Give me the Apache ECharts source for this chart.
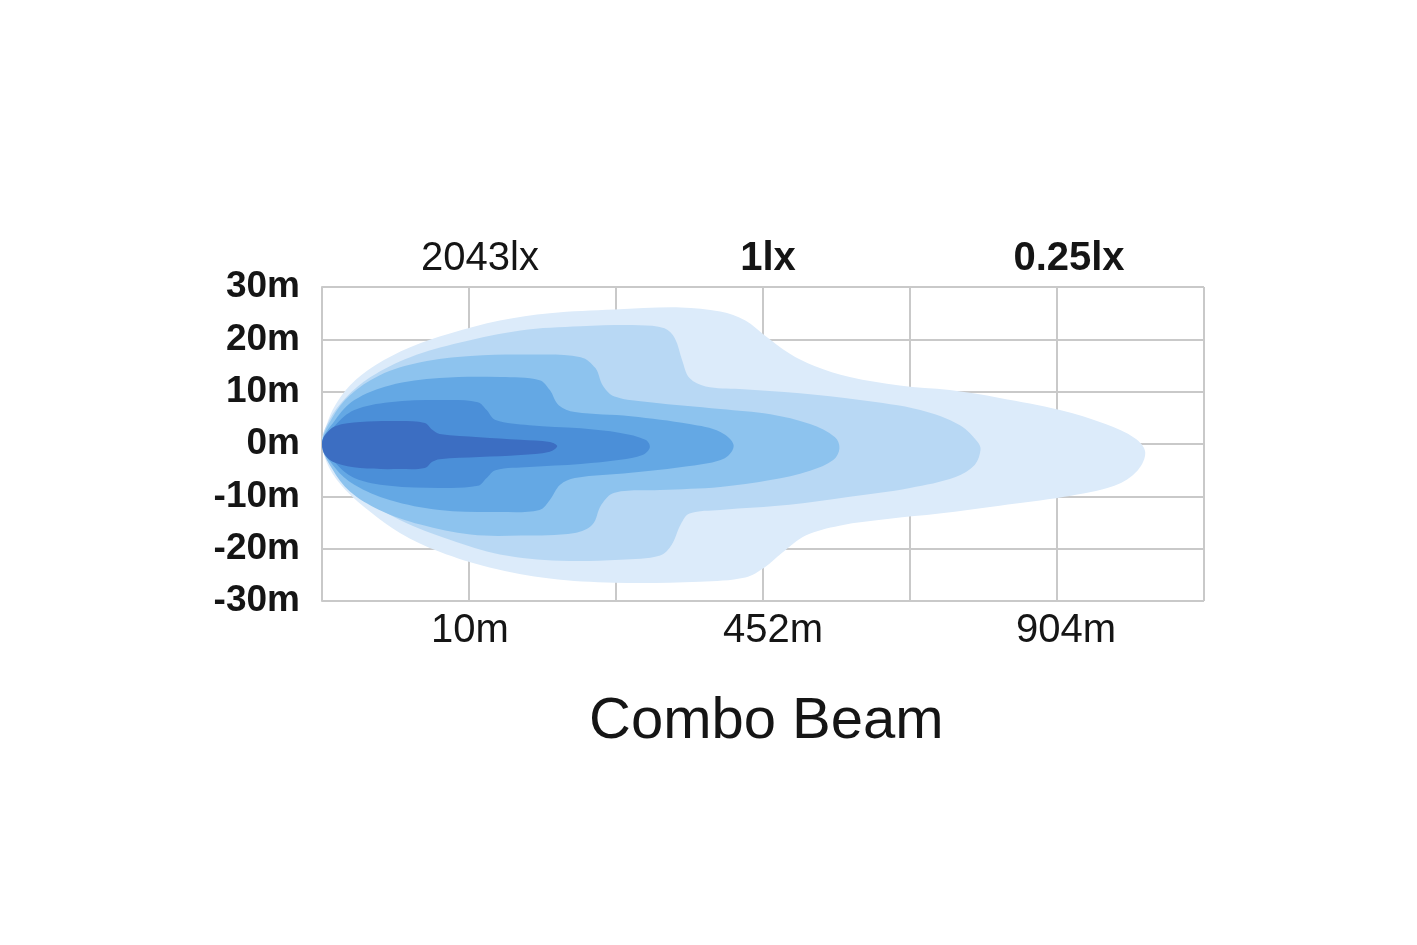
<!DOCTYPE html>
<html>
<head>
<meta charset="utf-8">
<style>
html,body{margin:0;padding:0;background:#fff;}
#chart{width:1417px;height:945px;}
</style>
<script src="https://cdn.jsdelivr.net/npm/echarts@6/dist/echarts.min.js"></script>
</head>
<body>
<div id="chart"></div>
<script>
// ---- data (x in grid-column units 0..6, y in metres) ----
var titleText = 'Combo Beam';
var yTicks = [-30, -20, -10, 0, 10, 20, 30];
var bottomLabels = ['', '10m', '', '452m', '', '904m', ''];
var topLabels = ['', '2043lx', '', '1lx', '', '0.25lx', ''];

// iso-lux contours, outermost (dimmest) to innermost (brightest)
var contour1 = [[0,0],[0.03,3.6],[0.09,7.4],[0.19,11.2],[0.36,15.0],[0.60,18.5],[0.87,21.1],[1.21,23.6],[1.55,25.0],[1.99,25.7],[2.44,26.1],[2.71,25.3],[2.88,23.6],[3.01,20.8],[3.18,17.3],[3.35,14.9],[3.59,12.8],[3.93,11.2],[4.27,10.3],[4.61,8.8],[5.02,6.5],[5.33,3.8],[5.53,1.1],[5.60,-1.5],
  [5.55,-5.0],[5.39,-8.0],[5.05,-10.1],[4.61,-11.8],[4.20,-13.3],[3.86,-14.3],[3.52,-15.6],[3.29,-17.5],[3.13,-20.8],[3.01,-23.6],[2.88,-25.5],[2.57,-26.3],[1.99,-26.5],[1.55,-25.7],[1.14,-23.6],[0.80,-20.6],[0.53,-17.0],[0.33,-13.0],[0.16,-8.8],[0.05,-4.6]];
var contour2 = [[0,0],[0.05,4.6],[0.16,8.8],[0.33,12.8],[0.60,16.6],[0.94,19.4],[1.35,21.7],[1.76,22.5],[2.16,22.7],[2.33,22.1],[2.40,20.2],[2.45,16.0],[2.50,12.6],[2.61,11.0],[2.84,10.5],[3.25,9.7],[3.66,8.4],[4.07,6.5],[4.34,3.6],[4.46,0.4],[4.48,-1.1],
  [4.44,-4.0],[4.31,-6.3],[4.00,-8.4],[3.59,-10.1],[3.18,-11.6],[2.71,-12.6],[2.50,-13.3],[2.44,-15.4],[2.38,-19.2],[2.30,-21.3],[2.03,-22.1],[1.62,-22.3],[1.21,-21.1],[0.87,-18.3],[0.53,-14.5],[0.26,-10.1],[0.09,-5.3]];
var contour3 = [[0,0],[0.07,5.0],[0.19,9.3],[0.39,13.1],[0.67,15.6],[1.01,16.8],[1.41,17.1],[1.76,16.6],[1.86,14.5],[1.91,11.2],[1.99,9.1],[2.23,8.0],[2.71,6.7],[3.05,5.7],[3.32,3.8],[3.49,1.3],[3.52,-0.8],
  [3.48,-3.0],[3.32,-5.1],[3.05,-6.9],[2.71,-8.2],[2.30,-8.8],[1.99,-9.3],[1.90,-11.6],[1.84,-15.4],[1.72,-17.0],[1.35,-17.5],[1.01,-17.3],[0.67,-15.4],[0.39,-12.6],[0.19,-9.1],[0.07,-4.8]];
var contour4 = [[0,0],[0.09,4.6],[0.22,8.4],[0.46,11.2],[0.80,12.6],[1.21,12.8],[1.48,12.2],[1.55,10.3],[1.61,7.4],[1.72,6.1],[2.10,5.3],[2.50,3.8],[2.71,2.3],[2.80,-0.2],
  [2.74,-2.7],[2.50,-4.2],[2.10,-5.5],[1.72,-6.5],[1.62,-7.8],[1.55,-10.7],[1.48,-12.6],[1.21,-13.0],[0.80,-12.6],[0.46,-10.7],[0.22,-7.8],[0.09,-4.6]];
var contour5 = [[0,0],[0.09,3.6],[0.22,6.5],[0.46,8.0],[0.80,8.4],[1.06,8.0],[1.12,6.5],[1.18,4.6],[1.41,3.6],[1.76,3.0],[2.03,2.1],[2.20,0.8],[2.23,-0.6],
  [2.18,-2.1],[2.03,-3.0],[1.76,-3.8],[1.41,-4.4],[1.18,-5.0],[1.12,-6.5],[1.06,-8.0],[0.80,-8.4],[0.46,-8.0],[0.22,-6.5],[0.09,-3.6]];
var contour6 = [[0,0],[0.02,1.7],[0.09,3.4],[0.26,4.2],[0.53,4.4],[0.70,4.0],[0.75,2.7],[0.80,1.9],[1.07,1.3],[1.35,0.8],[1.55,0.4],[1.60,-0.4],
  [1.55,-1.5],[1.35,-2.1],[1.07,-2.5],[0.80,-2.9],[0.75,-3.4],[0.70,-4.6],[0.53,-4.8],[0.26,-4.6],[0.09,-3.6],[0.02,-2.1]];

var contours = [contour1, contour2, contour3, contour4, contour5, contour6];
var colors = ['#dcebfa', '#b8d8f4', '#8dc3ee', '#64a8e4', '#4b8fd8', '#3c6ec2'];

var chart = echarts.init(document.getElementById('chart'), null, {renderer: 'canvas'});
var FONT = '"Liberation Sans", Arial, sans-serif';

function makeSeries(pts, color) {
  return {
    type: 'custom',
    silent: true,
    clip: false,
    data: pts,
    encode: {x: 0, y: 1},
    renderItem: function (params, api) {
      if (params.dataIndex !== 0) return null;
      var points = pts.map(function (p) { return api.coord(p); });
      return {
        type: 'polygon',
        shape: {points: points, smooth: 0.35},
        style: {fill: color, stroke: null}
      };
    }
  };
}

var gridLine = {show: true, lineStyle: {color: '#c9c9c9', width: 2}};

var option = {
  backgroundColor: '#ffffff',
  animation: false,
  title: {
    text: titleText,
    left: 584,
    top: 688,
    textStyle: {fontFamily: FONT, fontSize: 58, fontWeight: 'normal', color: '#151515'}
  },
  grid: {left: 322, right: 213, top: 287, bottom: 344, containLabel: false},
  xAxis: [
    {
      type: 'value', position: 'bottom', min: 0, max: 6, interval: 1,
      axisLine: {show: true, lineStyle: {color: '#c9c9c9', width: 2}},
      axisTick: {show: false},
      splitLine: gridLine,
      axisLabel: {
        margin: 10, fontFamily: FONT, fontSize: 40, color: '#151515',
        formatter: function (v) {
          var i = Math.round(v), t = bottomLabels[i];
          return t ? '{b' + i + '|' + t + '}' : '';
        },
        rich: {
          b1: {fontFamily: FONT, fontSize: 40, color: '#151515', padding: [0, 0, 0, 2]},
          b3: {fontFamily: FONT, fontSize: 40, color: '#151515', padding: [0, 0, 0, 20]},
          b5: {fontFamily: FONT, fontSize: 40, color: '#151515', padding: [0, 0, 0, 18]}
        }
      }
    },
    {
      type: 'value', position: 'top', min: 0, max: 6, interval: 1,
      axisLine: {show: false},
      axisTick: {show: false},
      splitLine: {show: false},
      axisLabel: {
        margin: 8, fontFamily: FONT, fontSize: 40, color: '#151515',
        formatter: function (v) {
          var i = Math.round(v), t = topLabels[i];
          return t ? '{t' + i + '|' + t + '}' : '';
        },
        rich: {
          t1: {fontFamily: FONT, fontSize: 40, color: '#151515', padding: [0, 0, 0, 22]},
          t3: {fontFamily: FONT, fontSize: 40, fontWeight: 'bold', color: '#151515', padding: [0, 0, 0, 10]},
          t5: {fontFamily: FONT, fontSize: 40, fontWeight: 'bold', color: '#151515', padding: [0, 0, 0, 24]}
        }
      }
    }
  ],
  yAxis: {
    type: 'value', min: yTicks[0], max: yTicks[yTicks.length - 1], interval: 10,
    axisLine: {show: true, lineStyle: {color: '#c9c9c9', width: 2}},
    axisTick: {show: false},
    splitLine: gridLine,
    axisLabel: {
      margin: 22, fontFamily: FONT, fontSize: 37, fontWeight: 'bold', color: '#151515',
      formatter: function (v) { return v + 'm'; }
    }
  },
  series: contours.map(function (c, i) { return makeSeries(c, colors[i]); })
};
chart.setOption(option);
</script>
</body>
</html>
